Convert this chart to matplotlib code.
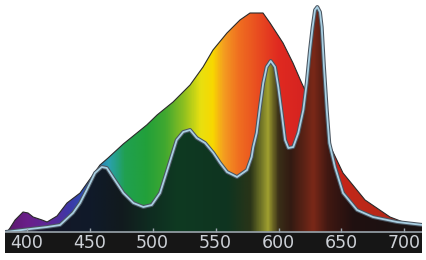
import numpy as np
import matplotlib.pyplot as plt
import matplotlib.patheffects as pe
from matplotlib.colors import LinearSegmentedColormap

# Spectre : enveloppe extérieure (zone colorée) et courbe intérieure (zone sombre)
outer_nm = [384.5, 386.9, 390.9, 397.2, 401.2, 405.2, 412.3, 416.3, 424.2, 432.1, 442.5,
            450.4, 458.3, 464.7, 476.8, 495.4, 503.6, 516.3, 529.8, 540.1, 548.0, 559.1,
            569.4, 577.4, 587.7, 593.3, 603.6, 611.5, 618.4, 621.0, 642.5, 651.2, 668.7,
            688.5, 698.8, 712.0]
outer_val = [0, 4, 12, 20, 19, 15, 12, 10, 16, 29, 39,
             53, 67, 74, 88, 107, 117, 130, 147, 165, 182, 199,
             212, 219, 219, 209, 189, 169, 149, 142, 82, 59, 32,
             15, 10, 8]

inner_nm = [383.0, 402.8, 416.3, 426.6, 436.9, 442.5, 447.8, 454.4, 459.7, 463.7, 468.9,
            476.8, 484.8, 492.7, 499.4, 506.0, 512.5, 519.2, 524.4, 529.8, 535.1, 541.7,
            548.3, 553.6, 559.1, 567.1, 575.0, 578.7, 580.0, 582.7, 585.3, 587.9, 590.6,
            593.8, 597.2, 599.8, 602.5, 605.2, 607.8, 611.7, 615.7, 619.7, 622.4, 625.0,
            627.1, 629.0, 630.8, 632.9, 634.3, 636.1, 638.3, 640.3, 644.8, 651.2, 662.3,
            675.0, 694.0, 714.7]
inner_val = [0, 3, 5, 7, 19, 29, 42, 59, 65, 64, 54,
             39, 29, 25, 27, 39, 65, 92, 100, 102, 94, 89,
             79, 69, 60, 55, 62, 75, 85, 99, 125, 149, 165,
             171, 165, 145, 119, 92, 84, 85, 99, 122, 149, 182,
             205, 222, 225, 220, 205, 165, 122, 89, 65, 39, 22,
             15, 10, 7]

tick_nm = [400, 450, 500, 550, 600, 650, 700]

W_MIN, W_MAX = 382.9, 713.9
TOP = 232

# couleurs du spectre (zone claire) et version sombre (sous la courbe)
bright_stops = [(W_MIN, '#5a1a6a'), (400, '#6a1f8a'), (420, '#5a2a9a'), (435, '#3a3aa8'),
                (450, '#2a5ab8'), (465, '#2aa0b0'), (478, '#20a050'), (495, '#22a03a'),
                (510, '#40a830'), (525, '#90c020'), (538, '#e8e010'), (548, '#f8d800'),
                (556, '#f4a020'), (568, '#f07020'), (585, '#e84a20'), (600, '#e02a20'),
                (630, '#d02020'), (660, '#c02818'), (W_MAX, '#a82818')]
dark_stops = [(W_MIN, '#201030'), (420, '#141828'), (450, '#101a2a'), (475, '#121a1e'),
              (495, '#0f2a20'), (520, '#0e3a22'), (560, '#0f3420'), (578, '#2a3418'),
              (592, '#a0a030'), (600, '#3a3018'), (610, '#321a12'), (628, '#7a2818'),
              (640, '#401812'), (660, '#201010'), (W_MAX, '#1a1414')]


def spectrum_cmap(stops):
    return LinearSegmentedColormap.from_list(
        'spec', [((w - W_MIN) / (W_MAX - W_MIN), c) for w, c in stops])


fig = plt.figure(figsize=(4.27, 2.6), dpi=100)
ax = fig.add_axes([5 / 427, 7 / 260, 417 / 427, 253 / 260])
grad = np.linspace(0, 1, 800)[None, :]

for xs, ys, stops, z in [(outer_nm, outer_val, bright_stops, 1),
                         (inner_nm, inner_val, dark_stops, 3)]:
    poly = ax.fill_between(xs, ys, 0, facecolor='none', edgecolor='none')
    img = ax.imshow(grad, cmap=spectrum_cmap(stops), extent=[W_MIN, W_MAX, 0, TOP],
                    aspect='auto', interpolation='bilinear', zorder=z)
    img.set_clip_path(poly.get_paths()[0], transform=ax.transData)

ax.plot(outer_nm, outer_val, color='#2a2a2a', lw=0.8, zorder=2)
ax.plot(inner_nm, inner_val, color='#a9cfe2', lw=1.3, zorder=4,
        solid_joinstyle='round',
        path_effects=[pe.Stroke(linewidth=2.8, foreground='#4a5560'), pe.Normal()])

# bande de l'axe
ax.axhspan(-21, 0, color='#161616', zorder=5)
ax.axhline(0, color='#9aa4ac', lw=1.2, zorder=6)
ax.vlines(tick_nm, 0, 4, color='#9aa4ac', lw=1, zorder=6)
for t in tick_nm:
    ax.text(t, -11, str(t), ha='center', va='center', color='#cdd1d7',
            fontsize=12.5, zorder=7)

ax.set_xlim(W_MIN, W_MAX)
ax.set_ylim(-21, TOP)
ax.axis('off')

fig.savefig('out.png', dpi=100)
